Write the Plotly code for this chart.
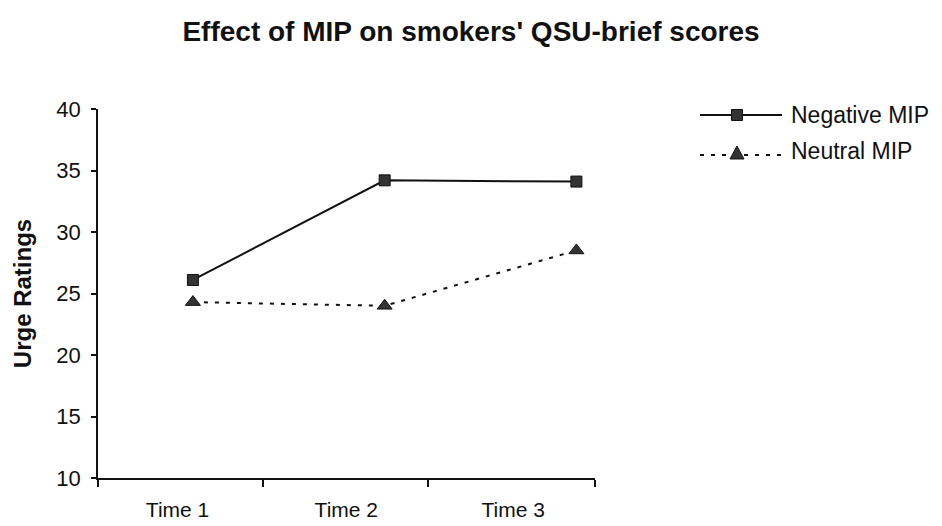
import plotly.graph_objects as go

# Urge ratings (QSU-brief) at each time point
times = ["Time 1", "Time 2", "Time 3"]
negative_mip = [26.1, 34.2, 34.1]
neutral_mip = [24.3, 24.0, 28.5]
y_ticks = [10, 15, 20, 25, 30, 35, 40]

# canvas / plot-area geometry (pixels)
W, H = 942, 526
L, R, T, B = 98, 347, 109, 48
PW, PH = W - L - R, H - T - B

# x axis: data points sit at 0, 1, 2; labels sit between boundary ticks
x_range = [-0.495, 2.097]
label_pos = [-0.08, 0.80, 1.67]
bound_ticks = [-0.495, 0.367, 1.227, 2.097]

FONT = "Arial, Liberation Sans, sans-serif"
INK = "#111111"
MARK = "#333333"


def px(x):
    return (x - L) / PW


def py(y):
    return (H - B - y) / PH


x_idx = list(range(len(times)))

fig = go.Figure()
fig.add_trace(go.Scatter(
    x=x_idx, y=negative_mip, name="Negative MIP", mode="lines+markers",
    line=dict(color=INK, width=2),
    marker=dict(symbol="square", size=11, color=MARK, line=dict(color=INK, width=1)),
    cliponaxis=False,
))
fig.add_trace(go.Scatter(
    x=x_idx, y=neutral_mip, name="Neutral MIP", mode="lines+markers",
    line=dict(color=INK, width=2, dash="4px,7px"),
    marker=dict(symbol="triangle-up", size=13, color=MARK, line=dict(color=INK, width=1)),
    cliponaxis=False,
))

# hand-drawn legend to the right of the plot
shapes = []
annotations = []
rows = [
    dict(name="Negative MIP", line_y=115, text_y=115, dash="solid", sym="square"),
    dict(name="Neutral MIP", line_y=155, text_y=151, dash="4px,7px", sym="triangle"),
]
for r in rows:
    shapes.append(dict(type="line", xref="paper", yref="paper",
                       x0=px(700), x1=px(782), y0=py(r["line_y"]), y1=py(r["line_y"]),
                       line=dict(color=INK, width=2, dash=r["dash"])))
    cx, cy = 737, r["line_y"]
    if r["sym"] == "square":
        shapes.append(dict(type="rect", xref="paper", yref="paper",
                           x0=px(cx - 5.5), x1=px(cx + 5.5), y0=py(cy + 5.5), y1=py(cy - 5.5),
                           fillcolor=MARK, line=dict(color=INK, width=1)))
    else:
        path = "M {:.5f},{:.5f} L {:.5f},{:.5f} L {:.5f},{:.5f} Z".format(
            px(cx - 7), py(cy + 4), px(cx + 7), py(cy + 4), px(cx), py(cy - 9))
        shapes.append(dict(type="path", xref="paper", yref="paper", path=path,
                           fillcolor=MARK, line=dict(color=INK, width=1)))
    annotations.append(dict(text=r["name"], xref="paper", yref="paper",
                            x=px(789), y=py(r["text_y"]), xanchor="left", yanchor="middle",
                            showarrow=False, font=dict(family=FONT, size=23, color=INK)))

fig.update_layout(
    width=W, height=H,
    margin=dict(l=L, r=R, t=T, b=B, autoexpand=False),
    paper_bgcolor="white", plot_bgcolor="white",
    showlegend=False,
    title=dict(text="<b>Effect of MIP on smokers' QSU-brief scores</b>",
               x=0.5, xref="container", xanchor="center",
               y=1 - 31 / H, yref="container", yanchor="middle",
               font=dict(family=FONT, size=28, color=INK)),
    xaxis=dict(
        range=x_range, showgrid=False, zeroline=False, automargin=False,
        showline=True, linecolor=INK, linewidth=1.5,
        tickmode="array", tickvals=label_pos, ticktext=times,
        ticks="", ticklabelstandoff=12,
        tickfont=dict(family=FONT, size=21, color=INK),
        minor=dict(tickmode="array", tickvals=bound_ticks, ticks="outside",
                   ticklen=7, tickcolor=INK, tickwidth=1.5, showgrid=False),
    ),
    yaxis=dict(
        range=[10, 40], showgrid=False, zeroline=False, automargin=False,
        showline=True, linecolor=INK, linewidth=1.5,
        tickmode="array", tickvals=y_ticks,
        ticks="outside", ticklen=5, tickcolor=INK, tickwidth=1.5,
        ticklabelstandoff=6,
        tickfont=dict(family=FONT, size=22, color=INK),
        title=dict(text="<b>Urge Ratings</b>", standoff=18,
                   font=dict(family=FONT, size=24, color=INK)),
    ),
    shapes=shapes,
    annotations=annotations,
)

fig.write_html("out.html")
